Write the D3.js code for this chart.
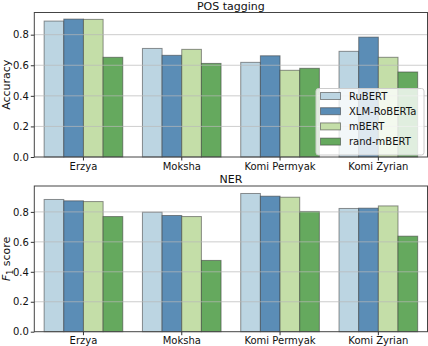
<!DOCTYPE html>
<html>
<head>
<meta charset="utf-8">
<script src="https://cdn.jsdelivr.net/npm/d3@7"></script>
<style>
  body { margin: 0; background: #fff; }
  svg { font-family: "DejaVu Sans", sans-serif; }
</style>
</head>
<body>
<div id="chart"></div>
<script>
const languages = ["Erzya", "Moksha", "Komi Permyak", "Komi Zyrian"];
const models = ["RuBERT", "XLM-RoBERTa", "mBERT", "rand-mBERT"];
const modelColors = ["#bcd5e2", "#5b8db6", "#c4dea8", "#65a95e"];

// rows follow languages, columns follow models
const posValues = [
    [0.889, 0.902, 0.900, 0.652],
    [0.710, 0.665, 0.704, 0.612],
    [0.619, 0.662, 0.567, 0.580],
    [0.691, 0.784, 0.652, 0.556],
];
const nerValues = [
    [0.883, 0.874, 0.869, 0.769],
    [0.798, 0.776, 0.769, 0.476],
    [0.923, 0.905, 0.898, 0.803],
    [0.823, 0.825, 0.840, 0.638],
];
const yTicks = [0, 0.2, 0.4, 0.6, 0.8];

var width = 428;
var height = 346;
var left = 34.3, right = 427.5;

var svg = d3.select("#chart")
    .append("svg")
        .attr("width", width)
        .attr("height", height)
        .attr("viewBox", [0, 0, width, height]);

var x0 = d3.scaleBand()
    .domain(languages)
    .range([left, right])
    .paddingInner(0.2)
    .paddingOuter(0.1);

var x1 = d3.scaleBand()
    .domain(models)
    .range([0, x0.bandwidth()]);

function drawPanel(values, top, bottom, title, yMax, yLabel) {
    var y = d3.scaleLinear()
        .domain([0, yMax])
        .range([bottom, top]);

    var g = svg.append("g");

    // bars
    languages.forEach((lang, i) => {
        g.append("g")
            .attr("transform", `translate(${x0(lang)},0)`)
            .selectAll("rect")
            .data(values[i])
            .join("rect")
                .attr("x", (d, j) => x1(models[j]))
                .attr("y", d => y(d))
                .attr("width", x1.bandwidth())
                .attr("height", d => y(0) - y(d))
                .attr("fill", (d, j) => modelColors[j])
                .attr("stroke", "#3a3a3a")
                .attr("stroke-opacity", 0.55)
                .attr("stroke-width", 1);
    });

    // grid on top of bars
    g.append("g")
        .selectAll("line")
        .data(yTicks.slice(1))
        .join("line")
            .attr("x1", left)
            .attr("x2", right)
            .attr("y1", d => y(d))
            .attr("y2", d => y(d))
            .attr("stroke", "#b8b8b8")
            .attr("stroke-opacity", 0.7)
            .attr("stroke-width", 1);

    g.append("g")
        .attr("transform", `translate(${left},0)`)
        .call(d3.axisLeft(y).tickValues(yTicks).tickFormat(d3.format(".1f")).tickSize(3.5).tickPadding(2))
        .call(a => a.select(".domain").remove())
        .call(a => a.selectAll("text").attr("font-size", 10).attr("fill", "#111").attr("font-family", "DejaVu Sans"))
        .call(a => a.selectAll("line").attr("stroke", "#333"));

    g.append("g")
        .attr("transform", `translate(0,${bottom})`)
        .call(d3.axisBottom(x0).tickSize(3.5).tickPadding(2))
        .call(a => a.select(".domain").remove())
        .call(a => a.selectAll("text").attr("font-size", 10).attr("fill", "#111").attr("font-family", "DejaVu Sans"))
        .call(a => a.selectAll("line").attr("stroke", "#333"));

    g.append("rect")
        .attr("x", left)
        .attr("y", top)
        .attr("width", right - left)
        .attr("height", bottom - top)
        .attr("fill", "none")
        .attr("stroke", "#444")
        .attr("stroke-width", 1);

    g.append("text")
        .attr("x", (left + right) / 2)
        .attr("y", top - 3)
        .attr("text-anchor", "middle")
        .attr("font-size", 11)
        .attr("fill", "#111")
        .text(title);

    var lab = g.append("text")
        .attr("transform", `translate(10,${(top + bottom) / 2}) rotate(-90)`)
        .attr("text-anchor", "middle")
        .attr("font-size", 11)
        .attr("fill", "#111");
    if (yLabel === "F1") {
        lab.append("tspan").attr("font-style", "italic").text("F");
        lab.append("tspan").attr("font-size", 8).attr("dy", 2.5).text("1");
        lab.append("tspan").attr("dy", -2.5).text(" score");
    } else {
        lab.text(yLabel);
    }
    return y;
}

drawPanel(posValues, 12.5, 157, "POS tagging", 0.945, "Accuracy");
drawPanel(nerValues, 186, 331.7, "NER", 0.973, "F1");

// legend
var legend = svg.append("g");
legend.append("rect")
    .attr("x", 316)
    .attr("y", 88.5)
    .attr("width", 108)
    .attr("height", 66.5)
    .attr("rx", 2.5)
    .attr("fill", "#fff")
    .attr("fill-opacity", 0.8)
    .attr("stroke", "#ccc");

models.forEach((m, j) => {
    var ly = 96 + j * 15.2;
    legend.append("rect")
        .attr("x", 320.5)
        .attr("y", ly - 3.5)
        .attr("width", 20)
        .attr("height", 7)
        .attr("fill", modelColors[j])
        .attr("stroke", "#3a3a3a")
        .attr("stroke-opacity", 0.55);
    legend.append("text")
        .attr("x", 349)
        .attr("y", ly + 3.5)
        .attr("font-size", 10)
        .attr("fill", "#111")
        .text(m);
});
</script>
</body>
</html>
